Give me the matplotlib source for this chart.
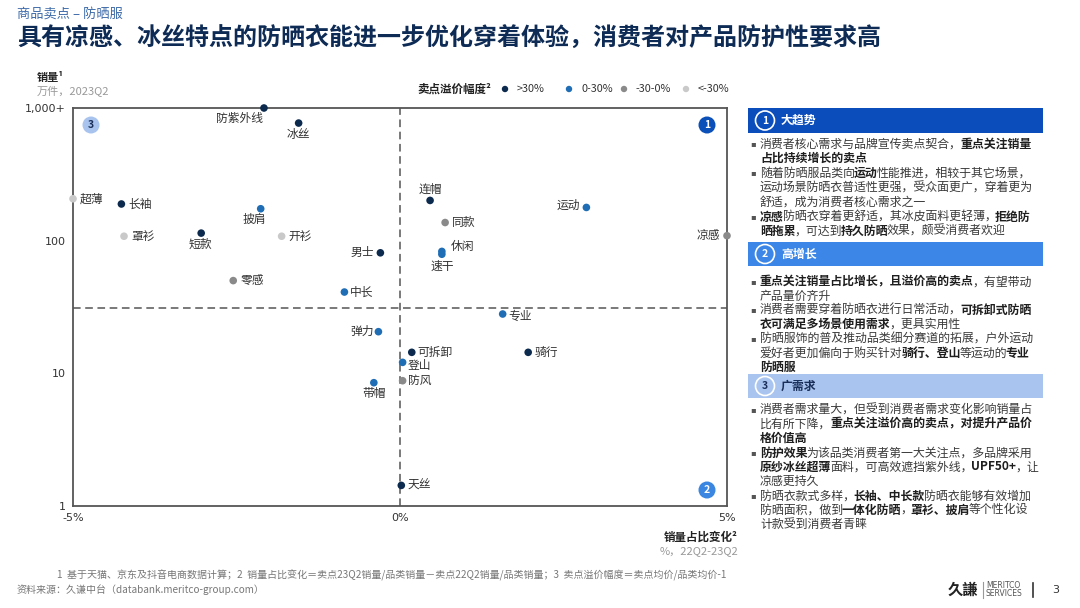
import matplotlib
matplotlib.use("Agg")
import matplotlib.pyplot as plt
from matplotlib.patches import Rectangle, Circle
import numpy as np

plt.rcParams['font.family'] = ['Noto Sans CJK SC', 'DejaVu Sans']

# ---------------- data ----------------
names = ["防紫外线", "冰丝", "超薄", "长袖", "披肩", "罩衫", "短款", "开衫", "男士", "零感",
         "中长", "连帽", "同款", "休闲", "速干", "运动", "凉感", "专业", "弹力", "可拆卸",
         "骑行", "登山", "防风", "带帽", "天丝"]
share_change = [-2.08, -1.55, -5.0, -4.26, -2.13, -4.22, -3.04, -1.81, -0.30, -2.55,
                -0.85, 0.46, 0.69, 0.64, 0.64, 2.85, 5.0, 1.57, -0.33, 0.18,
                1.96, 0.04, 0.04, -0.40, 0.02]
sales = [1000, 770, 207, 189, 174, 108, 114, 108, 81, 50,
         41, 201, 137, 83, 79, 178, 109, 28, 20.6, 14.4,
         14.4, 12.1, 8.8, 8.5, 1.43]
premium = [">30%", ">30%", "<-30%", ">30%", "0-30%", "<-30%", ">30%", "<-30%", ">30%", "-30-0%",
           "0-30%", ">30%", "-30-0%", "0-30%", "0-30%", "0-30%", "-30-0%", "0-30%", "0-30%", ">30%",
           ">30%", "0-30%", "-30-0%", "0-30%", ">30%"]
premium_classes = [">30%", "0-30%", "-30-0%", "<-30%"]
x_ticks = [-5, 0, 5]
x_tick_labels = ["-5%", "0%", "5%"]
y_ticks = [1, 10, 100, 1000]
y_tick_labels = ["1", "10", "100", "1,000+"]
x_split = 0
y_split = 31

# ---------------- style ----------------
class_colors = {">30%": "#0c2a4e", "0-30%": "#1f6db4", "-30-0%": "#8a8a8a", "<-30%": "#c9c9c9"}
# label placement (offset pixels, ha)
label_pos = {
    "防紫外线": (-24, -10, "center"), "冰丝": (0, -11, "center"), "超薄": (7, 0, "left"),
    "长袖": (7, 0, "left"), "披肩": (-6, -11, "center"), "罩衫": (7, 0, "left"),
    "短款": (-1, -11, "center"), "开衫": (7, 0, "left"), "男士": (-6, 0, "right"),
    "零感": (7, 0, "left"), "中长": (5, 0, "left"), "连帽": (0, 11, "center"),
    "同款": (7, 0, "left"), "休闲": (9, 5, "left"), "速干": (0, -12, "center"),
    "运动": (-6, 2, "right"), "凉感": (-7, 0, "right"), "专业": (6, -2, "left"),
    "弹力": (-5, 0, "right"), "可拆卸": (6, 0, "left"), "骑行": (6, 0, "left"),
    "登山": (5, -3, "left"), "防风": (5, 0, "left"), "带帽": (0, -11, "center"),
    "天丝": (6, 0, "left"),
}

W, H = 1080, 608
fig = plt.figure(figsize=(W / 100, H / 100), dpi=100)

# overlay in pixel coords
ov = fig.add_axes([0, 0, 1, 1], zorder=0)
ov.set_xlim(0, W)
ov.set_ylim(H, 0)
ov.axis("off")

# ---------------- chart ----------------
ax = fig.add_axes([73 / W, 1 - 506 / H, (727 - 73) / W, (506 - 108) / H], zorder=2)
ax.set_facecolor("none")
ax.set_yscale("log")
ax.set_xlim(-5, 5)
ax.set_ylim(1, 1000)
for s in ax.spines.values():
    s.set_color("#555555")
    s.set_linewidth(1.3)
ax.axvline(x_split, color="#555555", ls=(0, (5, 3)), lw=1.1, zorder=1)
ax.axhline(y_split, color="#555555", ls=(0, (5, 3)), lw=1.1, zorder=1)
ax.set_xticks(x_ticks)
ax.set_xticklabels(x_tick_labels, fontsize=8, color="#333333", family=["DejaVu Sans"])
ax.set_yticks(y_ticks)
ax.set_yticklabels(y_tick_labels, fontsize=8, color="#333333", family=["DejaVu Sans"])
ax.yaxis.set_minor_locator(matplotlib.ticker.NullLocator())
ax.tick_params(length=0, pad=5)

cols = [class_colors[p] for p in premium]
ax.scatter(share_change, sales, s=30, c=cols, zorder=3, clip_on=False, linewidths=0)
for n, xv, yv in zip(names, share_change, sales):
    dx, dy, ha = label_pos[n]
    ax.annotate(n, (xv, yv), xytext=(dx, dy), textcoords="offset pixels",
                ha=ha, va="center", fontsize=8.5, color="#333333", zorder=4)

# quadrant badges
def badge(x, y, num, fc, tc):
    ov.add_patch(Circle((x, y), 8.5, facecolor=fc, edgecolor="none", zorder=5))
    ov.text(x, y, num, ha="center", va="center", fontsize=7.5, fontweight="bold", color=tc, zorder=6)

badge(91, 125, "3", "#a8c4ee", "#1a2f5a")
badge(707, 125, "1", "#0b4fb8", "white")
badge(707, 490, "2", "#3a86e0", "white")

# axis titles
ov.text(37, 77, "销量¹", fontsize=8, fontweight="bold", color="#222222", va="center")
ov.text(37, 92, "万件，2023Q2", fontsize=8, color="#999999", va="center")
ov.text(738, 537, "销量占比变化²", fontsize=8.3, fontweight="bold", color="#222222", va="center", ha="right")
ov.text(738, 551, "%，22Q2-23Q2", fontsize=8, color="#999999", va="center", ha="right")

# legend
ov.text(417, 89, "卖点溢价幅度²", fontsize=8.3, fontweight="bold", color="#222222", va="center")
leg_x = [505, 569, 624, 686]
for lx, cl in zip(leg_x, premium_classes):
    ov.add_patch(Circle((lx, 89), 3.2, facecolor=class_colors[cl], edgecolor="none"))
    ov.text(lx + 12, 89, cl, fontsize=7.8, color="#333333", va="center")

# ---------------- titles ----------------
ov.text(17, 14, "商品卖点 – 防晒服", fontsize=9.5, color="#3c6aa8", va="center")
ov.text(17, 39, "具有凉感、冰丝特点的防晒衣能进一步优化穿着体验，消费者对产品防护性要求高",
        fontsize=17.3, fontweight="bold", color="#0d2b55", va="center")

# ---------------- right panel ----------------
renderer = fig.canvas.get_renderer()

def rich(x, y, runs, size=8.6, color="#3a3a3a"):
    for txt, bold in runs:
        t = ov.text(x, y, txt, fontsize=size, fontweight="bold" if bold else "normal",
                    color="#1e1e1e" if bold else color, va="center", ha="left")
        x += t.get_window_extent(renderer).width - 1.2

def header(y0, y1, num, label, fc, tc, cfc):
    ov.add_patch(Rectangle((748, y0), 295, y1 - y0, facecolor=fc, edgecolor="none"))
    cy = (y0 + y1) / 2
    ov.add_patch(Circle((765, cy), 9.5, facecolor=cfc, edgecolor="white", lw=1.2, zorder=3))
    ov.text(765, cy, num, ha="center", va="center", fontsize=7.5, fontweight="bold", color=tc, zorder=4)
    ov.text(781, cy, label, ha="left", va="center", fontsize=8.6, fontweight="bold", color=tc)

header(108, 133, "1", "大趋势", "#0b4dbb", "white", "#0b4dbb")
header(242, 266, "2", "高增长", "#3b86e6", "white", "#3b86e6")
header(374, 398, "3", "广需求", "#a9c5ef", "#1a2f5a", "#a9c5ef")

sections = [
    [  # section 1
        [(144, [("消费者核心需求与品牌宣传卖点契合，", False), ("重点关注销量", True)]),
         (158, [("占比持续增长的卖点", True)])],
        [(173, [("随着防晒服品类向", False), ("运动", True), ("性能推进，相较于其它场景，", False)]),
         (188, [("运动场景防晒衣普适性更强，受众面更广，穿着更为", False)]),
         (202, [("舒适，成为消费者核心需求之一", False)])],
        [(217, [("凉感", True), ("防晒衣穿着更舒适，其冰皮面料更轻薄，", False), ("拒绝防", True)]),
         (231, [("晒拖累", True), ("，可达到", False), ("持久防晒", True), ("效果，颇受消费者欢迎", False)])],
    ],
    [  # section 2
        [(282, [("重点关注销量占比增长，且溢价高的卖点", True), ("，有望带动", False)]),
         (296, [("产品量价齐升", False)])],
        [(310, [("消费者需要穿着防晒衣进行日常活动，", False), ("可拆卸式防晒", True)]),
         (324, [("衣可满足多场景使用需求", True), ("，更具实用性", False)])],
        [(339, [("防晒服饰的普及推动品类细分赛道的拓展，户外运动", False)]),
         (353, [("爱好者更加偏向于购买针对", False), ("骑行、登山", True), ("等运动的", False), ("专业", True)]),
         (367, [("防晒服", True)])],
    ],
    [  # section 3
        [(410, [("消费者需求量大，但受到消费者需求变化影响销量占", False)]),
         (424, [("比有所下降，", False), ("重点关注溢价高的卖点，对提升产品价", True)]),
         (438, [("格价值高", True)])],
        [(453, [("防护效果", True), ("为该品类消费者第一大关注点，多品牌采用", False)]),
         (467, [("原纱冰丝超薄", True), ("面料，可高效遮挡紫外线，", False), ("UPF50+", True), ("，让", False)]),
         (481, [("凉感更持久", False)])],
        [(496, [("防晒衣款式多样，", False), ("长袖、中长款", True), ("防晒衣能够有效增加", False)]),
         (510, [("防晒面积，做到", False), ("一体化防晒", True), ("，", False), ("罩衫、披肩", True), ("等个性化设", False)]),
         (524, [("计款受到消费者青睐", False)])],
    ],
]
for sec in sections:
    for bullet in sec:
        first_y = bullet[0][0]
        ov.text(750, first_y, "▪", fontsize=6, color="#555555", va="center", ha="left",
                family=["DejaVu Sans"])
        for ly, runs in bullet:
            rich(760, ly, runs)

# ---------------- footer ----------------
ov.text(57, 575, "1  基于天猫、京东及抖音电商数据计算；2  销量占比变化＝卖点23Q2销量/品类销量－卖点22Q2销量/品类销量；3  卖点溢价幅度＝卖点均价/品类均价-1",
        fontsize=7.2, color="#777777", va="center")
ov.text(17, 590, "资料来源：久谦中台（databank.meritco-group.com）", fontsize=7.2, color="#777777", va="center")

ov.text(948, 590, "久謙", fontsize=11, fontweight="bold", color="#222222", va="center", ha="left")
ov.plot([983, 983], [582, 598], color="#999999", lw=0.8)
ov.text(986, 585, "MERITCO", fontsize=5.5, color="#555555", va="center", ha="left", family=["DejaVu Sans"])
ov.text(986, 594, "SERVICES", fontsize=5.5, color="#555555", va="center", ha="left", family=["DejaVu Sans"])
ov.plot([1033, 1033], [583, 597], color="#333333", lw=1.2)
ov.text(1056, 590, "3", fontsize=8, color="#333333", va="center", ha="center", family=["DejaVu Sans"])

fig.savefig("out.png", dpi=100)
